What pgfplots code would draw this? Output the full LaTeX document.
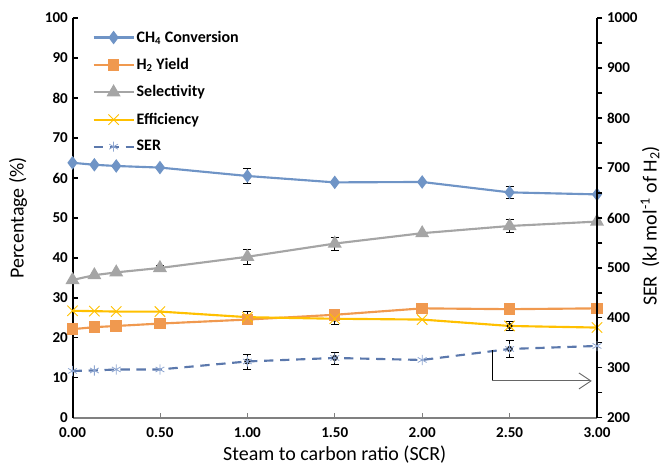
\documentclass[border=0pt]{standalone}
\usepackage{fontspec}
\setmainfont{Carlito}
\usepackage{pgfplots}
\pgfplotsset{compat=1.18}
\usetikzlibrary{arrows.meta}

\definecolor{ch4}{HTML}{6F94C6}
\definecolor{htwo}{HTML}{F0994F}
\definecolor{sel}{HTML}{A5A5A5}
\definecolor{eff}{HTML}{FFC000}
\definecolor{ser}{HTML}{5B78AC}
\definecolor{sermark}{HTML}{8EA6D1}

\begin{document}
\begin{tikzpicture}
\pgfplotsset{
  every axis/.append style={scale only axis, width=393.4pt, height=300pt, xmin=0, xmax=3,
    ticklabel style={font=\fontsize{11.3}{13}\selectfont\bfseries},
    /pgf/number format/assume math mode=true,
    /pgf/number format/1000 sep={},
    label style={font=\fontsize{15}{18}\selectfont}},
  ebar/.style={forget plot, only marks, mark=none,
    error bars/.cd, y dir=both, y explicit,
    error bar style={draw=black, line width=0.6pt, solid},
    error mark options={rotate=90, mark size=3pt, draw=black, line width=0.6pt, solid}},
}
\begin{axis}[
  ymin=0, ymax=100,
  axis x line*=bottom, axis y line*=left,
  x axis line style={draw=gray, line width=1.6pt},
  y axis line style={draw=black, line width=1.5pt},
  xtick={0,0.5,...,3},
  ytick={0,10,...,100},
  tick align=inside, major tick length=4pt,
  x tick style={gray, line width=0.5pt},
  y tick style={black, line width=0.8pt},
  xticklabel style={yshift=-4pt, /pgf/number format/.cd, fixed, fixed zerofill, precision=2},
  xlabel={Steam to carbon ratio (SCR)},
  ylabel={Percentage (\%)},
  xlabel style={at={(axis description cs:0.5,-0.0927)}, anchor=center},
  ylabel style={at={(axis description cs:-0.104,0.5)}, anchor=center},
  legend style={at={(axis description cs:0.03,0.98)}, anchor=north west,
    draw=none, fill=none, font=\fontsize{12}{14}\selectfont\bfseries,
    row sep=7.6pt, nodes={inner sep=1.5pt}},
  legend cell align=left,
  legend image code/.code={\draw[mark repeat=2,mark phase=2,#1] plot coordinates {(0pt,0pt)(15pt,0pt)(30pt,0pt)};},
]
% error bars first, so the marks sit on top
\addplot[ebar] coordinates {(1,60.5) +- (0,1.9) (2.5,56.4) +- (0,1.6)};
\addplot[ebar] coordinates {(0.5,37.5) +- (0,0.6) (1,40.3) +- (0,1.8) (1.5,43.6) +- (0,1.6) (2.5,48.0) +- (0,1.6)};
\addplot[ebar] coordinates {(1,25.2) +- (0,1.5) (1.5,24.8) +- (0,1.3) (2.5,23.0) +- (0,1.2)};

\addplot[ch4, line width=1.6pt, mark=diamond*, mark size=3.8pt, mark options={fill=ch4, draw=ch4, solid}]
  coordinates {(0,63.8)(0.125,63.3)(0.25,63.0)(0.5,62.6)(1,60.5)(1.5,58.9)(2,59.0)(2.5,56.4)(3,55.9)};
\addlegendentry{CH\textsubscript{4} Conversion}
\addplot[htwo, line width=1.6pt, mark=square*, mark size=3.5pt, mark options={fill=htwo, draw=htwo, solid}]
  coordinates {(0,22.2)(0.125,22.7)(0.25,23.0)(0.5,23.6)(1,24.6)(1.5,25.8)(2,27.4)(2.5,27.2)(3,27.4)};
\addlegendentry{H\textsubscript{2} Yield}
\addplot[sel, line width=1.6pt, mark=triangle*, mark size=4.5pt, mark options={fill=sel, draw=sel, solid}]
  coordinates {(0,34.5)(0.125,35.7)(0.25,36.4)(0.5,37.5)(1,40.3)(1.5,43.6)(2,46.2)(2.5,48.0)(3,49.1)};
\addlegendentry{Selectivity}
\addplot[eff, line width=1.6pt, mark=x, mark size=5.5pt, mark options={draw=eff, line width=0.7pt, solid}]
  coordinates {(0,26.8)(0.125,26.7)(0.25,26.6)(0.5,26.6)(1,25.2)(1.5,24.8)(2,24.6)(2.5,23.0)(3,22.6)};
\addlegendentry{Efficiency}
\addlegendimage{ser, line width=1.6pt, dash pattern=on 7pt off 5pt, mark=asterisk, mark size=3.8pt, mark options={draw=sermark, line width=0.6pt, solid}}
\addlegendentry{SER}
\end{axis}

\begin{axis}[
  ymin=200, ymax=1000,
  axis y line*=right, axis x line=none,
  y axis line style={draw=black, line width=1.5pt},
  ytick={200,300,...,1000}, minor ytick={250,350,...,950},
  tick align=outside, major tick length=4pt, minor tick length=4pt,
  y tick style={black, line width=0.8pt},
  ylabel={SER\ \ (kJ mol\textsuperscript{-1} of H\textsubscript{2})},
  ylabel style={at={(axis description cs:1.101,0.48)}, anchor=center},
]
\addplot[ebar] coordinates {(1,313) +- (0,15) (1.5,320) +- (0,12) (2.5,338) +- (0,17)};
\addplot[ser, line width=1.6pt, dash pattern=on 7pt off 5pt, mark=asterisk, mark size=3.8pt, mark options={draw=sermark, line width=0.6pt, solid}]
  coordinates {(0,294)(0.125,295)(0.25,297)(0.5,297)(1,313)(1.5,320)(2,316)(2.5,338)(3,344)};
% arrow pointing to the SER axis
\draw[black, line width=0.7pt] (axis cs:2.40,335) -- (axis cs:2.40,274);
\draw[black!60, line width=0.7pt, -{Straight Barb[length=9pt,width=12pt]}] (axis cs:2.40,274) -- (axis cs:2.97,274);
\end{axis}
\pgfresetboundingbox
\path[use as bounding box] (-54.4pt,-37.5pt) rectangle (447.4pt,313.5pt);
\end{tikzpicture}
\end{document}
